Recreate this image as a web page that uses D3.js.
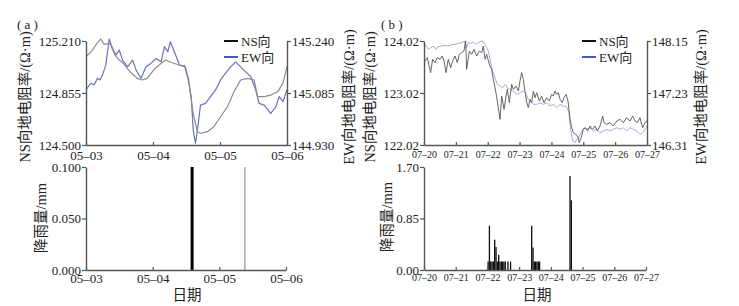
<!DOCTYPE html>
<html>
<head>
<meta charset="utf-8">
<script src="https://cdn.jsdelivr.net/npm/d3@7"></script>
<style>
body { margin: 0; background: #fff; }
</style>
</head>
<body>
<svg width="739" height="306"></svg>
<script>
// (a) 05-03 .. 05-06, hours since 05-03 00:00
var aDays = ["05–03", "05–04", "05–05", "05–06"]
var aNsTicks = [124.500, 124.855, 125.210]
var aEwTicks = [144.930, 145.085, 145.240]
var aNsHours = [0, 1.8, 3.9, 5.3, 6.5, 8.6, 10.4, 11.9, 13.4, 15.8, 18.3, 20.1, 21.9, 24.8, 28.4, 31.4, 34.5, 35.6,
    36.8, 37.7, 38.4, 39.9, 41.0, 43.5, 45.8, 48.2, 50.7, 53.0, 55.4, 57.9, 60.2, 61.5, 63.8, 66.2, 68.7, 70.5, 72]
var aNsVals = [125.103, 125.135, 125.194, 125.224, 125.187, 125.194, 125.114, 125.080, 125.058, 125.000, 124.955,
    124.944, 124.955, 125.024, 125.080, 125.058, 125.039, 125.035, 124.944, 124.807, 124.718, 124.591, 124.580,
    124.591, 124.625, 124.693, 124.762, 124.864, 124.944, 124.955, 124.944, 124.830, 124.830, 124.841, 124.864,
    124.921, 125.035]
var aEwHours = [0, 1.7, 2.9, 4.1, 5.0, 5.9, 7.1, 8.3, 9.5, 10.7, 11.9, 13.1, 14.9, 16.7, 17.9, 19.7, 21.5, 23.3,
    25.1, 26.9, 28.1, 29.3, 30.2, 31.9, 33.5, 35.3, 36.5, 37.7, 38.4, 39.2, 40.1, 41.0, 42.8, 44.6, 46.4, 48.2,
    50.0, 51.8, 53.6, 55.4, 57.2, 59.0, 60.8, 62.0, 63.8, 66.2, 68.0, 69.2, 70.5, 72]
var aEwVals = [145.094, 145.114, 145.109, 145.129, 145.124, 145.139, 145.168, 145.246, 145.218, 145.198, 145.213,
    145.183, 145.163, 145.183, 145.154, 145.129, 145.163, 145.174, 145.188, 145.178, 145.223, 145.208, 145.238,
    145.203, 145.168, 145.166, 145.129, 145.074, 144.975, 144.935, 144.985, 145.049, 145.054, 145.074, 145.094,
    145.124, 145.144, 145.163, 145.178, 145.163, 145.148, 145.134, 145.094, 145.054, 145.049, 145.024, 145.044,
    145.074, 145.059, 145.094]
var aRainTicks = [0, 0.05, 0.1]
var aRainHours = [38.2, 57.2]
var aRainMm = [0.1, 0.1]

// (b) 07-20 .. 07-27, hours since 07-20 00:00
var bDays = ["07–20", "07–21", "07–22", "07–23", "07–24", "07–25", "07–26", "07–27"]
var bNsTicks = [122.02, 123.02, 124.02]
var bEwTicks = [146.31, 147.23, 148.15]
var bNsHours = [0.8, 2.5, 5.0, 6.5, 8.3, 10.0, 12.1, 13.8, 15.1, 16.6, 18.3, 20.1, 21.6, 23.4, 25.1, 26.6, 28.4,
    30.1, 31.4, 32.1, 34.2, 35.9, 37.7, 39.7, 41.7, 43.5, 44.7, 46.0, 47.2, 48.5, 49.7, 51.0, 52.7, 54.2, 55.8,
    57.3, 58.5, 60.3, 61.8, 62.8, 64.3, 66.1, 67.3, 69.3, 71.1, 72.3, 73.6, 74.8, 76.1, 77.4, 78.6, 79.9, 81.1,
    82.4, 83.6, 84.9, 86.9, 88.6, 90.4, 92.4, 94.4, 96.2, 97.4, 98.7, 99.9, 101.2, 102.5, 104.2, 105.5, 107.0,
    108.5, 110.0, 111.3, 112.5, 114.3, 115.8, 117.0, 118.8, 120.0, 121.8, 123.3, 125.1, 126.8, 128.8, 130.6,
    132.6, 134.6, 135.6, 137.6, 140.1, 142.6, 145.2, 147.7, 150.2, 152.7, 155.2, 157.2, 159.0, 160.7, 162.7,
    164.7, 166.5, 168]
var bNsVals = [123.635, 123.699, 123.411, 123.667, 123.603, 123.699, 123.667, 123.731, 123.635, 123.411, 123.667,
    123.507, 123.635, 123.731, 123.603, 123.763, 123.796, 123.828, 124.020, 123.475, 123.828, 123.763, 123.860,
    123.731, 123.828, 123.796, 123.924, 123.667, 123.763, 123.635, 123.539, 123.475, 123.219, 123.026, 122.770,
    122.514, 122.962, 122.706, 122.962, 123.090, 122.834, 123.187, 123.090, 123.154, 123.058, 123.251, 123.411,
    123.283, 123.058, 122.834, 122.738, 122.898, 122.834, 123.058, 122.930, 123.026, 122.866, 122.962, 122.834,
    122.930, 122.866, 122.994, 122.962, 123.058, 122.994, 123.026, 122.898, 122.834, 122.930, 122.994, 122.866,
    122.514, 122.353, 122.257, 122.225, 122.193, 122.065, 122.193, 122.321, 122.353, 122.289, 122.385, 122.321,
    122.385, 122.289, 122.385, 122.578, 122.449, 122.417, 122.449, 122.385, 122.481, 122.514, 122.449, 122.546,
    122.481, 122.578, 122.481, 122.449, 122.546, 122.353, 122.449, 122.481]
var bEwHours = [0, 1.5, 3.3, 5.0, 7.0, 9.0, 10.8, 13.3, 15.8, 18.3, 20.8, 23.4, 25.9, 28.4, 30.4, 32.1, 33.4,
    35.2, 37.2, 39.2, 40.9, 43.0, 44.7, 46.7, 48.5, 49.7, 51.0, 52.2, 53.5, 55.3, 57.3, 59.3, 61.0, 62.8, 64.8,
    66.8, 68.6, 70.3, 72.3, 74.8, 76.8, 78.6, 80.4, 82.4, 84.9, 87.4, 89.9, 92.4, 94.9, 97.4, 99.9, 102.5, 105.0,
    107.5, 109.2, 110.5, 112.0, 113.8, 115.0, 117.0, 118.8, 120.5, 122.6, 125.1, 127.6, 130.1, 132.6, 135.1,
    137.6, 140.1, 142.6, 145.2, 147.7, 150.2, 152.7, 155.2, 157.7, 160.2, 162.7, 164.7, 166.5, 168]
var bEwVals = [148.120, 148.061, 148.002, 148.032, 148.061, 148.002, 148.049, 148.061, 148.073, 148.061, 148.085,
    148.091, 148.108, 148.120, 148.150, 148.032, 148.120, 148.108, 148.132, 148.091, 148.120, 148.150, 148.132,
    148.061, 147.973, 147.825, 147.678, 147.589, 147.501, 147.383, 147.353, 147.324, 147.383, 147.324, 147.294,
    147.265, 147.235, 147.206, 147.235, 147.265, 147.206, 147.118, 147.088, 147.029, 147.029, 147.059, 147.029,
    147.059, 147.000, 147.029, 146.970, 147.029, 147.000, 146.988, 146.882, 146.587, 146.381, 146.351, 146.410,
    146.469, 146.557, 146.616, 146.587, 146.616, 146.557, 146.587, 146.528, 146.557, 146.587, 146.557, 146.587,
    146.616, 146.587, 146.616, 146.557, 146.616, 146.587, 146.557, 146.498, 146.528, 146.587, 146.646]
var bRainTicks = [0, 0.85, 1.7]
var bRainHours = [48, 49, 50, 51, 52, 53, 54, 55, 56, 57, 58, 59, 60, 61, 63, 65,
    81, 82, 83, 84, 85, 86, 87, 110, 111]
var bRainMm = [0.14, 0.73, 0.14, 0.14, 0.14, 0.50, 0.38, 0.14, 0.25, 0.14, 0.14, 0.14, 0.14, 0.14, 0.14, 0.14,
    0.73, 0.37, 0.14, 0.14, 0.14, 0.14, 0.14, 1.55, 1.15]

var FONT = '"Liberation Serif", "Noto Sans CJK SC", serif'
var AXIS = "#555"
var svg = d3.select("svg").attr("font-family", FONT)

function styleAxis(g, fs) {
    g.attr("font-family", FONT)
    g.select(".domain").attr("stroke", AXIS).attr("stroke-width", 1.4)
    g.selectAll(".tick line").attr("stroke", AXIS).attr("stroke-width", 1.2)
    g.selectAll(".tick text").attr("fill", "#222").style("font-size", fs + "px")
}

function xAxis(sx, y, labels, pad, fs) {
    var g = svg.append("g").attr("transform", `translate(0, ${y})`)
    g.call(d3.axisBottom(sx)
        .tickValues(labels.map((d, i) => i * 24))
        .tickFormat((d, i) => labels[i])
        .tickSizeInner(-3).tickSizeOuter(0).tickPadding(pad))
    styleAxis(g, fs)
}

function yAxis(sy, x, ticks, fmt, right) {
    var g = svg.append("g").attr("transform", `translate(${x}, 0)`)
    var ax = right ? d3.axisRight(sy) : d3.axisLeft(sy)
    g.call(ax.tickValues(ticks).tickFormat(d3.format(fmt)).tickSizeInner(4).tickSizeOuter(0).tickPadding(1))
    styleAxis(g, 13)
}

function vTitle(x, y, txt, fs) {
    svg.append("text")
        .attr("transform", `translate(${x}, ${y}) rotate(-90)`)
        .attr("text-anchor", "middle").attr("dominant-baseline", "central")
        .style("font-size", fs + "px").attr("fill", "#222")
        .text(txt)
}

function addText(x, y, txt, fs, anchor) {
    svg.append("text").attr("x", x).attr("y", y)
        .attr("text-anchor", anchor || "start")
        .style("font-size", fs + "px").attr("fill", "#222")
        .text(txt)
}

function legend(x, y, colors) {
    ["NS向", "EW向"].forEach((t, i) => {
        svg.append("line").attr("x1", x).attr("x2", x + 14)
            .attr("y1", y + i * 16).attr("y2", y + i * 16)
            .attr("stroke", colors[i]).attr("stroke-width", 2)
        addText(x + 17, y + i * 16 + 4.5, t, 13)
    })
}

function series(sx, sy, hours, vals, color, w) {
    svg.append("path")
        .datum(vals)
        .attr("fill", "none")
        .attr("stroke", color)
        .attr("stroke-width", w)
        .attr("stroke-linejoin", "round")
        .attr("d", d3.line().x((d, i) => sx(hours[i])).y(d => sy(d)))
}

// ---------- panel (a) ----------
var axA = d3.scaleLinear().domain([0, 72]).range([86, 287])
var ayA = d3.scaleLinear().domain([124.5, 125.21]).range([145, 41])
var ayA2 = d3.scaleLinear().domain([144.93, 145.24]).range([145, 41])

series(axA, ayA2, aEwHours, aEwVals, "#6a73c2", 1.2)
series(axA, ayA, aNsHours, aNsVals, "#8c8c8c", 1.2)
xAxis(axA, 145, aDays, 6, 13)
yAxis(ayA, 86, aNsTicks, ".3f", false)
yAxis(ayA2, 287, aEwTicks, ".3f", true)
legend(224, 41, ["#111", "#4a58b0"])
addText(17, 29, "( a )", 13)
vTitle(25, 97, "NS向地电阻率/(Ω·m)", 14.5)
vTitle(349, 97, "EW向地电阻率/(Ω·m)", 14.5)

var rxA = d3.scaleLinear().domain([0, 72]).range([86, 286])
var ryA = d3.scaleLinear().domain([0, 0.1]).range([270, 167])
svg.append("g").selectAll("rect").data(aRainMm).enter().append("rect")
    .attr("x", (d, i) => rxA(aRainHours[i]) - (i === 0 ? 1.5 : 0.75))
    .attr("width", (d, i) => i === 0 ? 3 : 1.5)
    .attr("y", d => ryA(d))
    .attr("height", d => ryA(0) - ryA(d))
    .attr("fill", (d, i) => i === 0 ? "#000" : "#aaa")
xAxis(rxA, 270, aDays, 4, 13)
yAxis(ryA, 86, aRainTicks, ".3f", false)
vTitle(41, 218, "降雨量/mm", 14.5)
addText(187, 300, "日期", 14.5, "middle")

// ---------- panel (b) ----------
var axB = d3.scaleLinear().domain([0, 168]).range([424, 647])
var ayB = d3.scaleLinear().domain([122.02, 124.02]).range([145, 41])
var ayB2 = d3.scaleLinear().domain([146.31, 148.15]).range([145, 41])

series(axB, ayB2, bEwHours, bEwVals, "#9aa2dc", 0.9)
series(axB, ayB, bNsHours, bNsVals, "#555", 0.9)
xAxis(axB, 145, bDays, 6, 10)
yAxis(ayB, 424, bNsTicks, ".2f", false)
yAxis(ayB2, 647, bEwTicks, ".2f", true)
legend(582, 41, ["#111", "#4a58b0"])
addText(381, 29, "( b )", 13)
vTitle(370, 97, "NS向地电阻率/(Ω·m)", 14.5)
vTitle(701, 97, "EW向地电阻率/(Ω·m)", 14.5)

var rxB = d3.scaleLinear().domain([0, 168]).range([424, 646])
var ryB = d3.scaleLinear().domain([0, 1.7]).range([270, 167])
var hw = rxB(1) - rxB(0)
svg.append("g").selectAll("rect").data(bRainMm).enter().append("rect")
    .attr("x", (d, i) => rxB(bRainHours[i]))
    .attr("width", hw)
    .attr("y", d => ryB(d))
    .attr("height", d => ryB(0) - ryB(d))
    .attr("fill", "#111")
xAxis(rxB, 270, bDays, 4, 10)
yAxis(ryB, 424, bRainTicks, ".2f", false)
vTitle(387, 217, "降雨量/mm", 14.5)
addText(537, 300, "日期", 14.5, "middle")
</script>
</body>
</html>
